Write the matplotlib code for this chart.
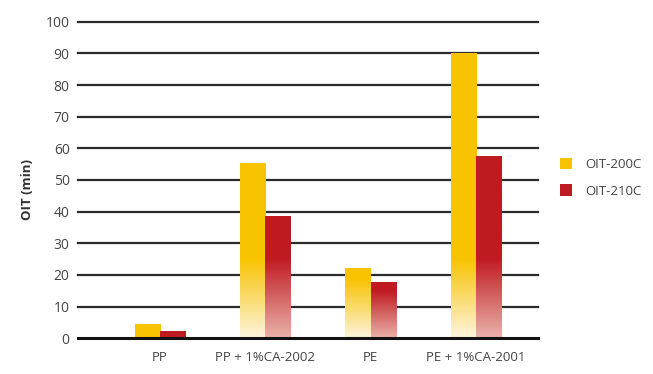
import numpy as np
import matplotlib.pyplot as plt
from matplotlib.patches import Patch
from matplotlib.colors import to_rgb

# Data
categories = ['PP', 'PP + 1%CA-2002', 'PE', 'PE + 1%CA-2001']
oit_200c = [4.2, 55, 21.8, 90]
oit_210c = [1.9, 38.4, 17.4, 57.4]
series_labels = ['OIT-200C', 'OIT-210C']
yticks = list(range(0, 101, 10))

# Styling
yellow = '#f8c300'
yellow_pale = '#fdf4de'
red = '#c01b22'
red_pale = '#eab2aa'
grid_color = '#2b2b2b'
text_color = '#444444'
bar_width = 0.24

plt.rcParams['font.family'] = ['Open Sans', 'DejaVu Sans']

fig = plt.figure(figsize=(6.53, 3.74), dpi=100)
ax = fig.add_axes([0.1194, 0.0955, 0.7044, 0.8465])


def gradient_bar(ax, x0, width, height, full, pale):
    # solid at top, fading to pale towards the base
    if height <= 0:
        return
    n = 200
    ys = np.linspace(0, height, n)
    fade = min(25.0, 0.85 * height) if height > 10 else 0.0
    t = np.ones(n) if fade == 0 else np.clip(ys / fade, 0, 1)
    c_full = np.array(to_rgb(full))
    c_pale = np.array(to_rgb(pale))
    img = c_pale[None, :] + (c_full - c_pale)[None, :] * t[:, None]
    ax.imshow(img[:, None, :], extent=[x0, x0 + width, 0, height],
              origin='lower', aspect='auto', zorder=3, interpolation='bilinear')


x = np.arange(len(categories))
for i in range(len(categories)):
    gradient_bar(ax, x[i] - bar_width, bar_width, oit_200c[i], yellow, yellow_pale)
    gradient_bar(ax, x[i], bar_width, oit_210c[i], red, red_pale)

# horizontal grid lines
for v in yticks:
    lw = 2.2 if v == 0 else 1.6
    col = '#111111' if v == 0 else grid_color
    ax.axhline(v, color=col, linewidth=lw, zorder=1 if v else 4, clip_on=False)

ax.set_xlim(-0.78, 3.59)
ax.set_ylim(0, 100)
ax.set_aspect('auto')

for s in ax.spines.values():
    s.set_visible(False)

ax.set_yticks(yticks)
ax.set_yticklabels([str(v) for v in yticks], fontsize=10, color=text_color)
ax.tick_params(axis='y', length=0, pad=6)
ax.set_xticks(x)
ax.set_xticklabels(categories, fontsize=9.5, color=text_color)
ax.tick_params(axis='x', length=0, pad=9)

ax.set_ylabel('OIT (min)', fontsize=9.5, fontweight='bold', color='#333333', labelpad=12)
ax.yaxis.set_label_coords(-0.095, 0.47)

handles = [Patch(facecolor=yellow, edgecolor='none'), Patch(facecolor=red, edgecolor='none')]
fig.legend(handles, series_labels, loc='center left', bbox_to_anchor=(0.84, 0.525),
           frameon=False, fontsize=9.5, handlelength=0.9, handleheight=1.0,
           handletextpad=1.0, labelspacing=1.0, labelcolor=text_color)

fig.savefig('out.png', dpi=100)
